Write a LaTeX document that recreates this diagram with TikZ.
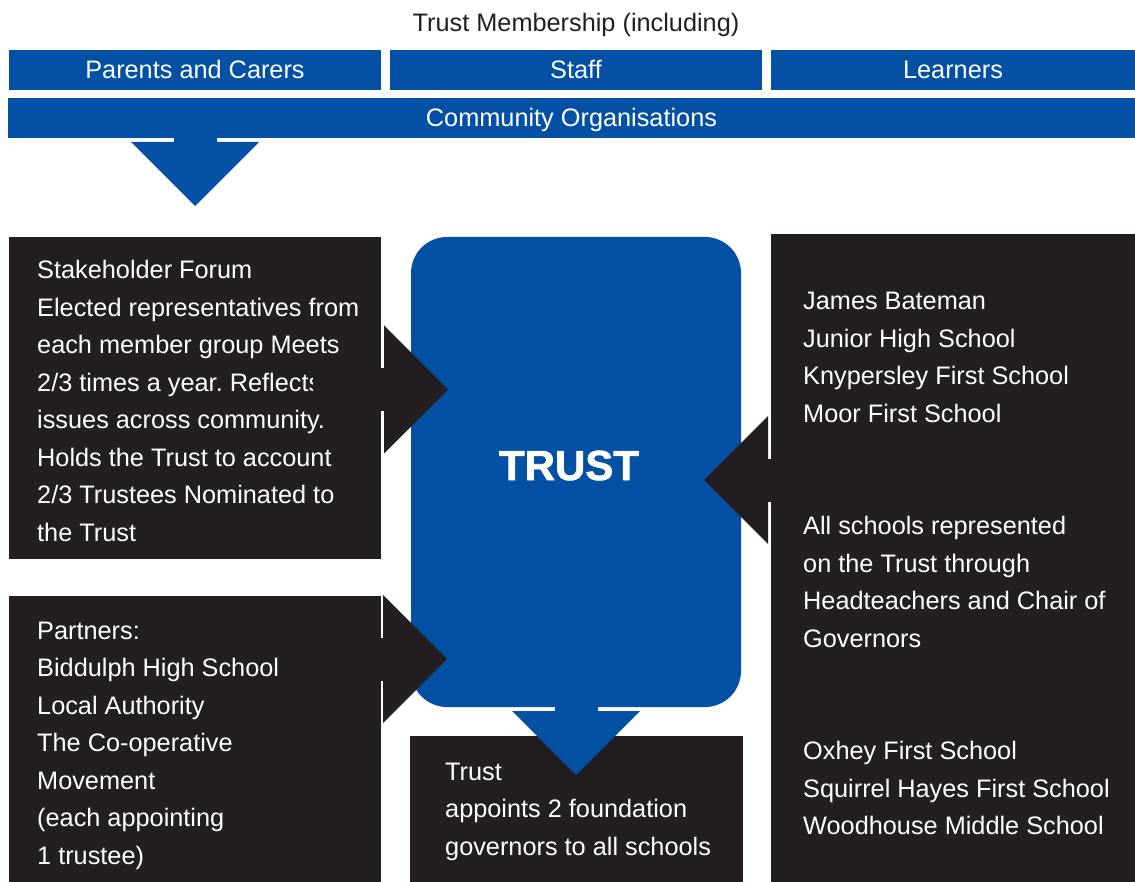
\documentclass[tikz,border=0pt]{standalone}
\usepackage{fontspec}
\setmainfont{Liberation Sans}
\newfontfamily\heavyfont{Liberation Sans}[BoldFeatures={FakeBold=1.6}]
\usetikzlibrary{calc}
\frenchspacing

\definecolor{trustblue}{RGB}{3,80,164}
\definecolor{boxdark}{RGB}{35,31,32}

\newcommand\bodyfont{\fontsize{25.3}{37.5}\selectfont}
\newcommand\lines[1]{\begin{tabular}[t]{@{}l@{}}#1\end{tabular}}

\tikzset{
  panel/.style={fill=boxdark, inner sep=0pt, outer sep=0pt, anchor=north west},
  bar/.style={fill=trustblue, inner sep=0pt, outer sep=0pt, anchor=north west,
    text=white, font=\bodyfont, minimum height=40pt, text height=18pt, text depth=0pt},
  bodytext/.style={anchor=base west, inner sep=0pt, text=white, font=\bodyfont},
  % block arrow pointing along +x, origin at the back of the head
  blockarrow/.pic={
    \fill[#1] (-12,-21.5) rectangle (0.5,21.5);
    \fill[#1] (0,-64) -- (64,0) -- (0,64) -- cycle;
  }
}

\begin{document}
\begin{tikzpicture}[x=1pt, y=-1pt]
\useasboundingbox (0,0) rectangle (1135,882);

% membership header
\node[anchor=base, inner sep=0pt, text=boxdark, font=\bodyfont] (title) at (576,32) {Trust Membership (including)};
\node[bar, minimum width=372pt] (parents) at (9,50) {Parents and Carers};
\node[bar, minimum width=372pt] (staff) at (390,50) {Staff};
\node[bar, minimum width=364pt] (learners) at (771,50) {Learners};
\node[bar, minimum width=1127pt] (community) at (8,98) {Community Organisations};

% dark panels
\node[panel, minimum width=372pt, minimum height=322pt] (forum) at (9,237) {};
\node[panel, minimum width=372pt, minimum height=286pt] (partners) at (9,596) {};
\node[panel, minimum width=364pt, minimum height=648pt] (schools) at (771,234) {};
\node[panel, minimum width=333pt, minimum height=146pt] (appoint) at (410,736) {};

% central trust box
\node[fill=trustblue, rounded corners=36pt, inner sep=0pt, outer sep=0pt, anchor=north west,
      minimum width=330pt, minimum height=470pt] (trust) at (411,237) {};
\node[anchor=base, inner sep=0pt, text=white, font=\fontsize{42}{42}\heavyfont\bfseries] (trustlabel) at (569,480) {TRUST};

% connectors
\pic[rotate=-90] at ($(community.south west)+(187,4)$) {blockarrow=trustblue};
\pic at ($(forum.north east)+(3,152.5)$) {blockarrow=boxdark};
\pic at ($(partners.north east)+(2,63)$) {blockarrow=boxdark};
\pic[rotate=180] at ($(schools.north west)+(-3,246)$) {blockarrow=boxdark};
\pic[rotate=-90] at ($(trust.south)+(0,4)$) {blockarrow=trustblue};

% panel texts (the fourth line runs past its frame and is cut off)
\begin{scope}
  \clip (9,237) -- (381,237) -- (381,368) -- (312,368) -- (312,398) -- (381,398) -- (381,559) -- (9,559) -- cycle;
  \node[bodytext] (forumtext) at (37,279) {\lines{Stakeholder Forum\\
    Elected representatives from\\
    each member group Meets\\
    2/3 times a year. Reflects\\
    issues across community.\\
    Holds the Trust to account\\
    2/3 Trustees Nominated to\\
    the Trust}};
\end{scope}

\node[bodytext] (partnerstext) at (37,639) {\lines{Partners:\\
  Biddulph High School\\
  Local Authority\\
  The Co-operative\\
  Movement\\
  (each appointing\\
  1 trustee)}};

\node[bodytext] (schoolstext) at (803,310) {\lines{James Bateman\\
  Junior High School\\
  Knypersley First School\\
  Moor First School\\
  \\
  \\
  All schools represented\\
  on the Trust through\\
  Headteachers and Chair of\\
  Governors\\
  \\
  \\
  Oxhey First School\\
  Squirrel Hayes First School\\
  Woodhouse Middle School}};

\node[bodytext] (appointtext) at (445,780) {\lines{Trust\\
  appoints 2 foundation\\
  governors to all schools}};

\end{tikzpicture}
\end{document}
